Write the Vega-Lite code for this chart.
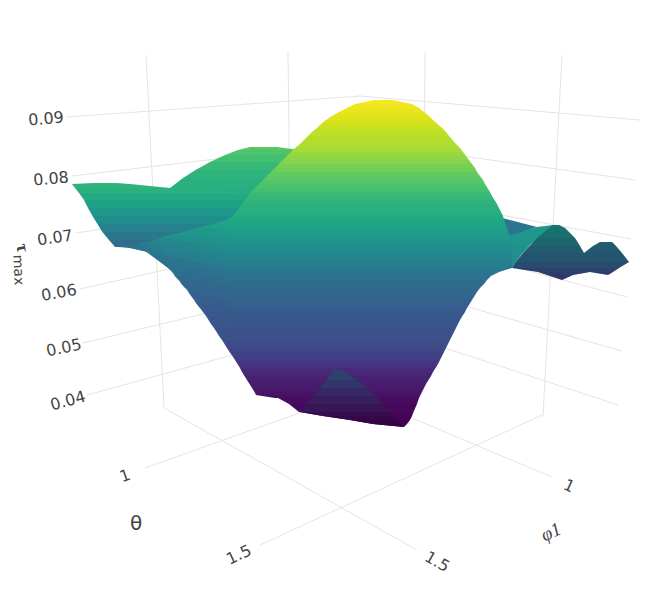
{"$schema":"https://vega.github.io/schema/vega-lite/v6.json","width":670,"height":610,"padding":0,"autosize":{"type":"none"},"background":"white","config":{"view":{"stroke":null}},
"datasets":{
"grid":[{"u":146,"v":55,"u2":164,"v2":408},{"u":288,"v":52,"u2":291,"v2":300},{"u":425,"v":52,"u2":424,"v2":200},{"u":562,"v":55,"u2":543,"v2":417},
{"u":67,"v":117,"u2":360,"v2":96},{"u":72,"v":176,"u2":360,"v2":142},{"u":76,"v":233,"u2":360,"v2":189},{"u":80,"v":289,"u2":360,"v2":226},{"u":83,"v":343,"u2":360,"v2":276},{"u":87,"v":395,"u2":360,"v2":320},
{"u":360,"v":96,"u2":640,"v2":120},{"u":360,"v":142,"u2":636,"v2":180},{"u":360,"v":189,"u2":631,"v2":239},{"u":360,"v":226,"u2":627,"v2":297},{"u":360,"v":276,"u2":622,"v2":351},{"u":360,"v":320,"u2":618,"v2":405},
{"u":145,"v":468,"u2":330,"v2":402},{"u":260,"v":545,"u2":542,"v2":415},{"u":552,"v":477,"u2":395,"v2":411},{"u":164,"v":408,"u2":417,"v2":550}],
"top":[
{"b":1,"y":147,"x":250,"x2":277,"tau":0.0784},{"b":1,"y":150,"x":238,"x2":300,"tau":0.0784},
{"b":2,"y":150,"x":238,"x2":300,"tau":0.0772},{"b":2,"y":155,"x":225,"x2":320,"tau":0.0772},
{"b":3,"y":155,"x":225,"x2":320,"tau":0.076},{"b":3,"y":162,"x":210,"x2":320,"tau":0.076},
{"b":4,"y":162,"x":210,"x2":320,"tau":0.0742},{"b":4,"y":170,"x":195.5,"x2":320,"tau":0.0742},
{"b":5,"y":170,"x":195.5,"x2":320,"tau":0.073},{"b":5,"y":178,"x":183,"x2":320,"tau":0.073},
{"b":6,"y":178,"x":183,"x2":320,"tau":0.0718},{"b":6,"y":188,"x":170,"x2":320,"tau":0.0718},
{"b":6.5,"y":188,"x":170,"x2":320,"tau":0.0712},{"b":6.5,"y":196,"x":170,"x2":320,"tau":0.0712},
{"b":7,"y":183,"x":93,"x2":117,"tau":0.0736},{"b":7,"y":184,"x":72,"x2":130,"tau":0.0736},
{"b":8,"y":184,"x":72,"x2":130,"tau":0.073},{"b":8,"y":188,"x":75,"x2":170,"tau":0.073},
{"b":9,"y":188,"x":75,"x2":170,"tau":0.0721},{"b":9,"y":193,"x":79,"x2":250,"tau":0.0721},
{"b":10,"y":193,"x":79,"x2":260,"tau":0.0703},{"b":10,"y":200,"x":84,"x2":260,"tau":0.0703},
{"b":11,"y":200,"x":84,"x2":260,"tau":0.0682},{"b":11,"y":208,"x":88,"x2":260,"tau":0.0682},
{"b":12,"y":208,"x":88,"x2":260,"tau":0.0658},{"b":12,"y":216,"x":92.5,"x2":260,"tau":0.0658},
{"b":13,"y":216,"x":92.5,"x2":260,"tau":0.0631},{"b":13,"y":224,"x":97.4,"x2":260,"tau":0.0631},
{"b":14,"y":224,"x":97.4,"x2":260,"tau":0.0604},{"b":14,"y":232,"x":102.4,"x2":260,"tau":0.0604},
{"b":15,"y":232,"x":102.4,"x2":260,"tau":0.0577},{"b":15,"y":240,"x":109,"x2":260,"tau":0.0577},
{"b":16,"y":240,"x":109,"x2":260,"tau":0.0553},{"b":16,"y":247,"x":115,"x2":260,"tau":0.0553},
{"b":17,"y":218,"x":498,"x2":502,"tau":0.0574},{"b":17,"y":227,"x":498,"x2":537,"tau":0.0574},
{"b":18,"y":227,"x":498,"x2":537,"tau":0.0574},{"b":18,"y":236,"x":498,"x2":512,"tau":0.0574},
{"b":19,"y":225,"x":553,"x2":555,"tau":0.066},{"b":19,"y":227,"x":537,"x2":552,"tau":0.066},
{"b":20,"y":227,"x":537,"x2":552,"tau":0.066},{"b":20,"y":235,"x":512,"x2":541,"tau":0.066},
{"b":21,"y":235,"x":505,"x2":541,"tau":0.065},{"b":21,"y":245,"x":505,"x2":530,"tau":0.065},
{"b":22,"y":245,"x":505,"x2":530,"tau":0.064},{"b":22,"y":255,"x":505,"x2":521,"tau":0.064},
{"b":23,"y":255,"x":505,"x2":521,"tau":0.063},{"b":23,"y":268,"x":505,"x2":512,"tau":0.063},
{"b":30,"y":100,"x":374,"x2":392,"tau":0.0934},{"b":30,"y":104,"x":355,"x2":412,"tau":0.0934},
{"b":31,"y":104,"x":355,"x2":412,"tau":0.0928},{"b":31,"y":108,"x":347,"x2":419,"tau":0.0928},
{"b":32,"y":108,"x":347,"x2":419,"tau":0.0922},{"b":32,"y":112,"x":339,"x2":424,"tau":0.0922},
{"b":33,"y":112,"x":339,"x2":424,"tau":0.0916},{"b":33,"y":116,"x":332,"x2":429,"tau":0.0916},
{"b":34,"y":116,"x":332,"x2":429,"tau":0.091},{"b":34,"y":120,"x":326,"x2":433,"tau":0.091},
{"b":35,"y":120,"x":326,"x2":433,"tau":0.0901},{"b":35,"y":124,"x":321,"x2":437.5,"tau":0.0901},
{"b":36,"y":124,"x":321,"x2":437.5,"tau":0.0895},{"b":36,"y":128,"x":317,"x2":442,"tau":0.0895},
{"b":37,"y":128,"x":317,"x2":442,"tau":0.0886},{"b":37,"y":132,"x":312,"x2":446,"tau":0.0886},
{"b":38,"y":132,"x":312,"x2":446,"tau":0.088},{"b":38,"y":136,"x":308,"x2":449,"tau":0.088},
{"b":39,"y":136,"x":308,"x2":449,"tau":0.0874},{"b":39,"y":140,"x":304,"x2":452.5,"tau":0.0874},
{"b":40,"y":140,"x":304,"x2":452.5,"tau":0.0871},{"b":40,"y":144,"x":300,"x2":456,"tau":0.0871},
{"b":41,"y":144,"x":300,"x2":456,"tau":0.0865},{"b":41,"y":148,"x":295,"x2":460,"tau":0.0865},
{"b":42,"y":148,"x":295,"x2":460,"tau":0.0859},{"b":42,"y":152,"x":291,"x2":463,"tau":0.0859},
{"b":43,"y":152,"x":291,"x2":463,"tau":0.0847},{"b":43,"y":156,"x":287,"x2":466,"tau":0.0847},
{"b":44,"y":156,"x":287,"x2":466,"tau":0.0838},{"b":44,"y":160,"x":283,"x2":469,"tau":0.0838},
{"b":45,"y":160,"x":283,"x2":469,"tau":0.0829},{"b":45,"y":164,"x":279,"x2":472,"tau":0.0829},
{"b":46,"y":164,"x":279,"x2":472,"tau":0.0817},{"b":46,"y":168,"x":275,"x2":475,"tau":0.0817},
{"b":47,"y":168,"x":275,"x2":475,"tau":0.0808},{"b":47,"y":172,"x":271,"x2":477,"tau":0.0808},
{"b":48,"y":172,"x":271,"x2":477,"tau":0.0796},{"b":48,"y":176,"x":267,"x2":480,"tau":0.0796},
{"b":49,"y":176,"x":267,"x2":480,"tau":0.0787},{"b":49,"y":180,"x":263,"x2":483,"tau":0.0787},
{"b":50,"y":180,"x":263,"x2":483,"tau":0.0778},{"b":50,"y":184,"x":259,"x2":485,"tau":0.0778},
{"b":51,"y":184,"x":259,"x2":485,"tau":0.0769},{"b":51,"y":188,"x":255,"x2":487.5,"tau":0.0769},
{"b":52,"y":188,"x":255,"x2":487.5,"tau":0.076},{"b":52,"y":192,"x":251,"x2":490,"tau":0.076},
{"b":53,"y":192,"x":251,"x2":490,"tau":0.0748},{"b":53,"y":196,"x":248,"x2":492,"tau":0.0748},
{"b":54,"y":196,"x":248,"x2":492,"tau":0.0739},{"b":54,"y":200,"x":245,"x2":494.5,"tau":0.0739},
{"b":55,"y":200,"x":245,"x2":494.5,"tau":0.073},{"b":55,"y":204,"x":242,"x2":497,"tau":0.073},
{"b":56,"y":204,"x":242,"x2":497,"tau":0.0724},{"b":56,"y":208,"x":239,"x2":499,"tau":0.0724},
{"b":57,"y":208,"x":239,"x2":499,"tau":0.0718},{"b":57,"y":212,"x":236,"x2":501,"tau":0.0718},
{"b":58,"y":212,"x":236,"x2":501,"tau":0.0712},{"b":58,"y":216,"x":233.5,"x2":503,"tau":0.0712},
{"b":59,"y":216,"x":233.5,"x2":503,"tau":0.0706},{"b":59,"y":220,"x":226,"x2":504,"tau":0.0706},
{"b":60,"y":220,"x":226,"x2":504,"tau":0.0694},{"b":60,"y":224,"x":213,"x2":505.5,"tau":0.0694},
{"b":61,"y":224,"x":213,"x2":505.5,"tau":0.0685},{"b":61,"y":228,"x":198,"x2":507,"tau":0.0685},
{"b":62,"y":228,"x":198,"x2":507,"tau":0.0676},{"b":62,"y":232,"x":183,"x2":508.4,"tau":0.0676},
{"b":63,"y":232,"x":183,"x2":508.4,"tau":0.0667},{"b":63,"y":236,"x":167,"x2":509,"tau":0.0667},
{"b":64,"y":236,"x":167,"x2":509,"tau":0.0658},{"b":64,"y":240,"x":156,"x2":510,"tau":0.0658},
{"b":65,"y":240,"x":156,"x2":510,"tau":0.0649},{"b":65,"y":244,"x":137,"x2":510.8,"tau":0.0649},
{"b":66,"y":244,"x":137,"x2":510.8,"tau":0.0637},{"b":66,"y":247,"x":117,"x2":511.5,"tau":0.0637},
{"b":67,"y":247,"x":125,"x2":511.5,"tau":0.0628},{"b":67,"y":252,"x":147,"x2":512,"tau":0.0628},
{"b":68,"y":252,"x":147,"x2":512,"tau":0.0619},{"b":68,"y":256,"x":153.5,"x2":512,"tau":0.0619},
{"b":69,"y":256,"x":153.5,"x2":512,"tau":0.061},{"b":69,"y":260,"x":158.5,"x2":512,"tau":0.061},
{"b":70,"y":260,"x":158.5,"x2":512,"tau":0.0598},{"b":70,"y":264,"x":163,"x2":512,"tau":0.0598},
{"b":71,"y":264,"x":163,"x2":512,"tau":0.0589},{"b":71,"y":268,"x":168,"x2":512,"tau":0.0589},
{"b":72,"y":268,"x":168,"x2":512,"tau":0.058},{"b":72,"y":272,"x":172,"x2":499,"tau":0.058},
{"b":73,"y":272,"x":172,"x2":499,"tau":0.0568},{"b":73,"y":276,"x":175,"x2":491,"tau":0.0568},
{"b":74,"y":276,"x":175,"x2":491,"tau":0.0562},{"b":74,"y":280,"x":178.5,"x2":487,"tau":0.0562},
{"b":75,"y":280,"x":178.5,"x2":487,"tau":0.0553},{"b":75,"y":284,"x":182,"x2":484,"tau":0.0553},
{"b":76,"y":284,"x":182,"x2":484,"tau":0.0547},{"b":76,"y":288,"x":185.5,"x2":480,"tau":0.0547},
{"b":77,"y":288,"x":185.5,"x2":480,"tau":0.0541},{"b":77,"y":292,"x":188.5,"x2":477,"tau":0.0541},
{"b":78,"y":292,"x":188.5,"x2":477,"tau":0.0535},{"b":78,"y":296,"x":191,"x2":474.5,"tau":0.0535},
{"b":79,"y":296,"x":191,"x2":474.5,"tau":0.0529},{"b":79,"y":300,"x":194,"x2":472,"tau":0.0529},
{"b":80,"y":300,"x":194,"x2":472,"tau":0.0523},{"b":80,"y":304,"x":197,"x2":469.5,"tau":0.0523},
{"b":81,"y":304,"x":197,"x2":469.5,"tau":0.0517},{"b":81,"y":308,"x":200,"x2":467,"tau":0.0517},
{"b":82,"y":308,"x":200,"x2":467,"tau":0.0511},{"b":82,"y":312,"x":203,"x2":465,"tau":0.0511},
{"b":83,"y":312,"x":203,"x2":465,"tau":0.0508},{"b":83,"y":316,"x":206,"x2":462.4,"tau":0.0508},
{"b":84,"y":316,"x":206,"x2":462.4,"tau":0.0502},{"b":84,"y":320,"x":208.5,"x2":460,"tau":0.0502},
{"b":85,"y":320,"x":208.5,"x2":460,"tau":0.0499},{"b":85,"y":324,"x":211,"x2":458,"tau":0.0499},
{"b":86,"y":324,"x":211,"x2":458,"tau":0.0496},{"b":86,"y":328,"x":214,"x2":456,"tau":0.0496},
{"b":87,"y":328,"x":214,"x2":456,"tau":0.049},{"b":87,"y":332,"x":216.6,"x2":454,"tau":0.049},
{"b":88,"y":332,"x":216.6,"x2":454,"tau":0.0487},{"b":88,"y":336,"x":219,"x2":452,"tau":0.0487},
{"b":89,"y":336,"x":219,"x2":452,"tau":0.0484},{"b":89,"y":340,"x":222,"x2":450,"tau":0.0484},
{"b":90,"y":340,"x":222,"x2":450,"tau":0.0478},{"b":90,"y":344,"x":224.5,"x2":448,"tau":0.0478},
{"b":91,"y":344,"x":224.5,"x2":448,"tau":0.0472},{"b":91,"y":348,"x":227,"x2":446,"tau":0.0472},
{"b":92,"y":348,"x":227,"x2":446,"tau":0.0466},{"b":92,"y":352,"x":229.5,"x2":444,"tau":0.0466},
{"b":93,"y":352,"x":229.5,"x2":444,"tau":0.0457},{"b":93,"y":356,"x":232.4,"x2":442,"tau":0.0457},
{"b":94,"y":356,"x":232.4,"x2":442,"tau":0.0448},{"b":94,"y":360,"x":235,"x2":440,"tau":0.0448},
{"b":95,"y":360,"x":235,"x2":440,"tau":0.0436},{"b":95,"y":364,"x":237.5,"x2":438,"tau":0.0436},
{"b":96,"y":364,"x":237.5,"x2":438,"tau":0.0424},{"b":96,"y":368,"x":240,"x2":435.5,"tau":0.0424},
{"b":97,"y":368,"x":240,"x2":435.5,"tau":0.0412},{"b":97,"y":372,"x":242,"x2":433,"tau":0.0412},
{"b":98,"y":372,"x":242,"x2":433,"tau":0.0403},{"b":98,"y":376,"x":244.5,"x2":431,"tau":0.0403},
{"b":99,"y":376,"x":244.5,"x2":431,"tau":0.0394},{"b":99,"y":380,"x":247,"x2":428.5,"tau":0.0394},
{"b":100,"y":380,"x":247,"x2":428.5,"tau":0.0388},{"b":100,"y":384,"x":249.5,"x2":426,"tau":0.0388},
{"b":101,"y":384,"x":249.5,"x2":426,"tau":0.0382},{"b":101,"y":388,"x":252,"x2":424,"tau":0.0382},
{"b":102,"y":388,"x":252,"x2":424,"tau":0.0376},{"b":102,"y":392,"x":254.5,"x2":422,"tau":0.0376},
{"b":103,"y":392,"x":254.5,"x2":422,"tau":0.037},{"b":103,"y":395,"x":256,"x2":420.5,"tau":0.037},
{"b":104,"y":395,"x":256,"x2":420.5,"tau":0.0364},{"b":104,"y":398,"x":275,"x2":419,"tau":0.0364},
{"b":105,"y":398,"x":278,"x2":419,"tau":0.0357},{"b":105,"y":404,"x":289,"x2":417,"tau":0.0357},
{"b":106,"y":404,"x":289,"x2":417,"tau":0.0351},{"b":106,"y":412,"x":299,"x2":413.5,"tau":0.0351},
{"b":107,"y":412,"x":299,"x2":413.5,"tau":0.0346},{"b":107,"y":416,"x":323,"x2":412,"tau":0.0346},
{"b":108,"y":416,"x":323,"x2":412,"tau":0.0344},{"b":108,"y":420,"x":350,"x2":410,"tau":0.0344},
{"b":109,"y":420,"x":350,"x2":410,"tau":0.0342},{"b":109,"y":424,"x":373,"x2":407,"tau":0.0342},
{"b":110,"y":424,"x":373,"x2":407,"tau":0.0341},{"b":110,"y":427,"x":404,"x2":404,"tau":0.0341}
],
"tilt":[
{"b":301,"x":230,"y":220,"y2":226,"tau":0.0693},{"b":301,"x":215,"y":223,"y2":223,"tau":0.0693},
{"b":302,"x":230,"y":226,"y2":232,"tau":0.0677},{"b":302,"x":215,"y":223,"y2":229,"tau":0.0677},{"b":302,"x":202,"y":227,"y2":227,"tau":0.0677},
{"b":303,"x":230,"y":232,"y2":238,"tau":0.0664},{"b":303,"x":202,"y":226.8,"y2":232.8,"tau":0.0664},{"b":303,"x":190,"y":230.3,"y2":230.3,"tau":0.0664},
{"b":304,"x":230,"y":238,"y2":244,"tau":0.0651},{"b":304,"x":200,"y":232.3,"y2":238.3,"tau":0.0651},{"b":304,"x":190,"y":230.3,"y2":236.3,"tau":0.0651},{"b":304,"x":177,"y":233.9,"y2":233.9,"tau":0.0651},
{"b":305,"x":230,"y":244,"y2":250,"tau":0.0635},{"b":305,"x":200,"y":238.3,"y2":244.3,"tau":0.0635},{"b":305,"x":185,"y":235.4,"y2":241.4,"tau":0.0635},{"b":305,"x":177,"y":233.9,"y2":239.9,"tau":0.0635},{"b":305,"x":166,"y":237.4,"y2":237.4,"tau":0.0635},
{"b":306,"x":230,"y":250,"y2":256,"tau":0.0621},{"b":306,"x":200,"y":244.3,"y2":250.3,"tau":0.0621},{"b":306,"x":185,"y":241.4,"y2":247.4,"tau":0.0621},{"b":306,"x":167,"y":238,"y2":244,"tau":0.0621},{"b":306,"x":158,"y":240,"y2":240,"tau":0.0621},
{"b":307,"x":230,"y":256,"y2":262,"tau":0.0606},{"b":307,"x":200,"y":250.3,"y2":256.3,"tau":0.0606},{"b":307,"x":185,"y":247.4,"y2":253.4,"tau":0.0606},{"b":307,"x":167,"y":244,"y2":250,"tau":0.0606},{"b":307,"x":158,"y":240,"y2":245.5,"tau":0.0606},{"b":307,"x":150,"y":241.6,"y2":241.6,"tau":0.0606},
{"b":308,"x":230,"y":262,"y2":268,"tau":0.0591},{"b":308,"x":200,"y":256.3,"y2":262.3,"tau":0.0591},{"b":308,"x":185,"y":253.4,"y2":259.4,"tau":0.0591},{"b":308,"x":167,"y":250,"y2":256,"tau":0.0591},{"b":308,"x":150,"y":241.6,"y2":247.7,"tau":0.0591},{"b":308,"x":145,"y":243,"y2":245.3,"tau":0.0591},{"b":308,"x":141,"y":243.6,"y2":243.6,"tau":0.0591},
{"b":309,"x":230,"y":268,"y2":274,"tau":0.0576},{"b":309,"x":200,"y":262.3,"y2":268.3,"tau":0.0576},{"b":309,"x":185,"y":259.4,"y2":265.4,"tau":0.0576},{"b":309,"x":167,"y":256,"y2":262,"tau":0.0576},{"b":309,"x":145,"y":245.3,"y2":251,"tau":0.0576},{"b":309,"x":141,"y":243.6,"y2":249,"tau":0.0576},{"b":309,"x":131,"y":245,"y2":245,"tau":0.0576},
{"b":310,"x":230,"y":274,"y2":280,"tau":0.0562},{"b":310,"x":200,"y":268.3,"y2":274.3,"tau":0.0562},{"b":310,"x":185,"y":265.4,"y2":271.4,"tau":0.0562},{"b":310,"x":167,"y":262,"y2":267,"tau":0.0562},{"b":310,"x":145,"y":251,"y2":251,"tau":0.0562},{"b":310,"x":131,"y":245,"y2":248,"tau":0.0562},{"b":310,"x":118,"y":247,"y2":247,"tau":0.0562},
{"b":311,"x":230,"y":280,"y2":286,"tau":0.0551},{"b":311,"x":200,"y":274.3,"y2":280.3,"tau":0.0551},{"b":311,"x":185,"y":271.4,"y2":277.4,"tau":0.0551},{"b":311,"x":168,"y":268.2,"y2":268.2,"tau":0.0551},
{"b":312,"x":230,"y":286,"y2":292,"tau":0.0542},{"b":312,"x":200,"y":280.3,"y2":286.3,"tau":0.0542},{"b":312,"x":185,"y":277.4,"y2":283.4,"tau":0.0542},{"b":312,"x":174,"y":275.8,"y2":275.8,"tau":0.0542},
{"b":313,"x":230,"y":292,"y2":300,"tau":0.0532},{"b":313,"x":200,"y":286.3,"y2":294.3,"tau":0.0532},{"b":313,"x":185,"y":283.4,"y2":288,"tau":0.0532},{"b":313,"x":180,"y":282.4,"y2":282.4,"tau":0.0532},
{"b":314,"x":230,"y":300,"y2":308,"tau":0.052},{"b":314,"x":200,"y":294.3,"y2":302.3,"tau":0.052},{"b":314,"x":188,"y":292,"y2":292,"tau":0.052},
{"b":315,"x":230,"y":308,"y2":316,"tau":0.051},{"b":315,"x":200,"y":302.3,"y2":308,"tau":0.051},{"b":315,"x":195,"y":301.4,"y2":301.4,"tau":0.051},
{"b":316,"x":230,"y":316,"y2":324,"tau":0.0505},{"b":316,"x":202,"y":310.7,"y2":310.7,"tau":0.0505}
],
"under":[
{"b":200,"y":225,"x":553,"x2":559,"tau":0.0652},{"b":200,"y":228,"x":549,"x2":565,"tau":0.0652},
{"b":199,"y":228,"x":549,"x2":565,"tau":0.0643},{"b":199,"y":232,"x":544,"x2":569,"tau":0.0643},
{"b":201,"y":232,"x":544,"x2":569,"tau":0.0634},{"b":201,"y":238,"x":537,"x2":575,"tau":0.0634},
{"b":202,"y":238,"x":537,"x2":575,"tau":0.0604},{"b":202,"y":246,"x":529.5,"x2":580,"tau":0.0604},
{"b":203,"y":246,"x":529.5,"x2":580,"tau":0.0574},{"b":203,"y":253,"x":523,"x2":584,"tau":0.0574},
{"b":204,"y":242,"x":600,"x2":612,"tau":0.058},{"b":204,"y":246,"x":593,"x2":616,"tau":0.058},
{"b":205,"y":246,"x":593,"x2":616,"tau":0.0562},{"b":205,"y":253,"x":584,"x2":622,"tau":0.0562},
{"b":206,"y":253,"x":523,"x2":622,"tau":0.055},{"b":206,"y":262,"x":516,"x2":629,"tau":0.055},
{"b":207,"y":262,"x":516,"x2":629,"tau":0.052},{"b":207,"y":268,"x":512,"x2":619,"tau":0.052},
{"b":208,"y":268,"x":512,"x2":619,"tau":0.0496},{"b":208,"y":272,"x":538,"x2":613,"tau":0.0496},
{"b":209,"y":272,"x":538,"x2":590,"tau":0.0478},{"b":209,"y":275,"x":547,"x2":573,"tau":0.0478},
{"b":210,"y":272,"x":590,"x2":613,"tau":0.0478},{"b":210,"y":275,"x":608,"x2":608,"tau":0.0478},
{"b":211,"y":275,"x":547,"x2":573,"tau":0.0466},{"b":211,"y":280,"x":562,"x2":562,"tau":0.0466},
{"b":220,"y":369,"x":335,"x2":335,"tau":0.0508},{"b":220,"y":372,"x":332.6,"x2":345,"tau":0.0508},
{"b":221,"y":372,"x":332.6,"x2":345,"tau":0.049},{"b":221,"y":380,"x":326,"x2":357,"tau":0.049},
{"b":222,"y":380,"x":326,"x2":357,"tau":0.046},{"b":222,"y":388,"x":320,"x2":367,"tau":0.046},
{"b":223,"y":388,"x":320,"x2":367,"tau":0.043},{"b":223,"y":396,"x":313.7,"x2":376,"tau":0.043},
{"b":224,"y":396,"x":313.7,"x2":376,"tau":0.0406},{"b":224,"y":404,"x":307,"x2":382.5,"tau":0.0406},
{"b":225,"y":404,"x":307,"x2":382.5,"tau":0.0382},{"b":225,"y":412,"x":300.5,"x2":389,"tau":0.0382},
{"b":226,"y":412,"x":300.5,"x2":389,"tau":0.0364},{"b":226,"y":416,"x":323,"x2":393,"tau":0.0364},
{"b":227,"y":416,"x":323,"x2":393,"tau":0.0355},{"b":227,"y":420,"x":350,"x2":396.8,"tau":0.0355},
{"b":228,"y":420,"x":350,"x2":396.8,"tau":0.0346},{"b":228,"y":424,"x":373,"x2":401,"tau":0.0346},
{"b":229,"y":424,"x":373,"x2":401,"tau":0.034},{"b":229,"y":427,"x":404,"x2":404,"tau":0.034}
]},
"encoding":{"x":{"field":"x","type":"quantitative","stack":null,"axis":null,"scale":{"domain":[0,670],"nice":false,"zero":false}},"y":{"field":"y","type":"quantitative","stack":null,"axis":null,"scale":{"domain":[610,0],"nice":false,"zero":false}}},
"layer":[
{"data":{"name":"grid"},"mark":{"type":"rule","stroke":"#e4e4e4","strokeWidth":1},"encoding":{"x":{"field":"u","type":"quantitative","axis":null,"scale":{"domain":[0,670],"nice":false,"zero":false}},"y":{"field":"v","type":"quantitative","axis":null,"scale":{"domain":[610,0],"nice":false,"zero":false}},"x2":{"field":"u2"},"y2":{"field":"v2"}}},
{"data":{"name":"top"},"mark":{"type":"area","orient":"horizontal","interpolate":"linear"},"encoding":{"x2":{"field":"x2"},"detail":{"field":"b"},"color":{"field":"tau","type":"quantitative","legend":null,"scale":{"scheme":"viridis","domain":[0.034,0.094],"clamp":true}}}},
{"data":{"name":"tilt"},"mark":{"type":"area","orient":"vertical","interpolate":"linear"},"encoding":{"y2":{"field":"y2"},"detail":{"field":"b"},"color":{"field":"tau","type":"quantitative","legend":null,"scale":{"scheme":"viridis","domain":[0.034,0.094],"clamp":true}}}},
{"data":{"name":"under"},"mark":{"type":"area","orient":"horizontal","interpolate":"linear"},"encoding":{"x2":{"field":"x2"},"detail":{"field":"b"},"color":{"field":"tau","type":"quantitative","legend":null,"scale":{"scheme":"viridis","domain":[0.034,0.094],"clamp":true}}}},
{"data":{"name":"under"},"mark":{"type":"area","orient":"horizontal","interpolate":"linear","fill":"black","fillOpacity":0.22},"encoding":{"x2":{"field":"x2"},"detail":{"field":"b"}}},
{"data":{"values":[{"x":46,"y":119,"t":"0.09"},{"x":51,"y":179,"t":"0.08"}]},"mark":{"type":"text","angle":355,"font":"DejaVu Sans","fontSize":16,"fill":"#444"},"encoding":{"text":{"field":"t"}}},
{"data":{"values":[{"x":55,"y":238,"t":"0.07"}]},"mark":{"type":"text","angle":352,"font":"DejaVu Sans","fontSize":16,"fill":"#444"},"encoding":{"text":{"field":"t"}}},
{"data":{"values":[{"x":59,"y":293,"t":"0.06"}]},"mark":{"type":"text","angle":350,"font":"DejaVu Sans","fontSize":16,"fill":"#444"},"encoding":{"text":{"field":"t"}}},
{"data":{"values":[{"x":64,"y":348,"t":"0.05"}]},"mark":{"type":"text","angle":348,"font":"DejaVu Sans","fontSize":16,"fill":"#444"},"encoding":{"text":{"field":"t"}}},
{"data":{"values":[{"x":68,"y":401,"t":"0.04"}]},"mark":{"type":"text","angle":345,"font":"DejaVu Sans","fontSize":16,"fill":"#444"},"encoding":{"text":{"field":"t"}}},
{"data":{"values":[{"x":125,"y":476,"t":"1"}]},"mark":{"type":"text","angle":340,"font":"DejaVu Sans","fontSize":16,"fill":"#444"},"encoding":{"text":{"field":"t"}}},
{"data":{"values":[{"x":239,"y":555,"t":"1.5"}]},"mark":{"type":"text","angle":335,"font":"DejaVu Sans","fontSize":16,"fill":"#444"},"encoding":{"text":{"field":"t"}}},
{"data":{"values":[{"x":569,"y":486,"t":"1"}]},"mark":{"type":"text","angle":25,"font":"DejaVu Sans","fontSize":16,"fill":"#444"},"encoding":{"text":{"field":"t"}}},
{"data":{"values":[{"x":437,"y":562,"t":"1.5"}]},"mark":{"type":"text","angle":30,"font":"DejaVu Sans","fontSize":16,"fill":"#444"},"encoding":{"text":{"field":"t"}}},
{"data":{"values":[{"x":136,"y":524,"t":"θ"}]},"mark":{"type":"text","font":"DejaVu Sans","fontSize":20,"fill":"#444"},"encoding":{"text":{"field":"t"}}},
{"data":{"values":[{"x":551,"y":532,"t":"φ1"}]},"mark":{"type":"text","angle":335,"font":"Liberation Serif","fontStyle":"italic","fontSize":19,"fill":"#444"},"encoding":{"text":{"field":"t"}}},
{"data":{"values":[{"x":22,"y":248,"t":"τ"}]},"mark":{"type":"text","angle":80,"font":"Liberation Serif","fontWeight":"bold","fontSize":18,"fill":"#444"},"encoding":{"text":{"field":"t"}}},
{"data":{"values":[{"x":18,"y":270,"t":"max"}]},"mark":{"type":"text","angle":87,"font":"DejaVu Sans","fontSize":14,"fill":"#444"},"encoding":{"text":{"field":"t"}}}
]}
